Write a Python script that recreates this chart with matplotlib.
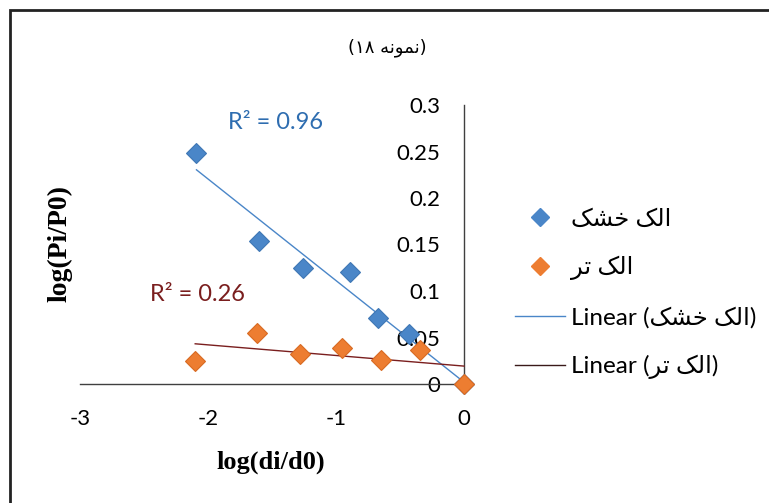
import numpy as np
import matplotlib
matplotlib.use("Agg")
import matplotlib.pyplot as plt
from matplotlib.lines import Line2D
from matplotlib.patches import Rectangle
from matplotlib.ticker import FormatStrFormatter

plt.rcParams['font.family'] = ['Lato', 'DejaVu Sans']
plt.rcParams['axes.unicode_minus'] = False

# Persian labels, pre-shaped (presentation forms, visual order) since matplotlib has no bidi
dry_name = '\uFB8F\uFEB8\uFEA7 \uFB8F\uFEDF\uFE8D'      # الک خشک
wet_name = '\uFEAE\uFE97 \uFB8F\uFEDF\uFE8D'            # الک تر
title_txt = '(\u06F1\u06F8 \uFEEA\uFEE7\uFEEE\uFEE4\uFEE7)'  # (نمونه ۱۸)

# data
x_dry = [-2.09, -1.60, -1.26, -0.89, -0.67, -0.43, 0.0]
y_dry = [0.248, 0.154, 0.125, 0.120, 0.071, 0.054, 0.0]
x_wet = [-2.10, -1.62, -1.28, -0.95, -0.65, -0.34, 0.0]
y_wet = [0.025, 0.055, 0.032, 0.039, 0.026, 0.037, 0.0]
r2_dry = 0.96
r2_wet = 0.26

blue = '#4A86C8'
orange = '#ED7D31'
dark_red = '#7A1E1E'

fig = plt.figure(figsize=(7.69, 5.03), dpi=100)
ax = fig.add_axes([80/769, 1-384/503, (464-80)/769, (384-105)/503])

# trendlines (least squares), drawn over the data range like Excel
for xs, ys, c in [(x_dry, y_dry, blue), (x_wet, y_wet, dark_red)]:
    k, b = np.polyfit(xs, ys, 1)
    xx = np.array([min(xs), max(xs)])
    ax.plot(xx, k*xx + b, color=c, lw=1, zorder=3, clip_on=False)

ax.plot(x_dry, y_dry, 'D', color=blue, ms=10, mec='#3F77B5', mew=0.8, zorder=4, clip_on=False)
ax.plot(x_wet, y_wet, 'D', color=orange, ms=10, mec='#D86A22', mew=0.8, zorder=5, clip_on=False)

ax.text(-1.84, 0.281, 'R\u00b2 = %.2f' % r2_dry, color='#2E6DB0', fontsize=17, va='center')
ax.text(-2.45, 0.096, 'R\u00b2 = %.2f' % r2_wet, color=dark_red, fontsize=17, va='center')

ax.set_xlim(-3, 0)
ax.set_ylim(0, 0.3)
ax.set_xticks([-3, -2, -1, 0])
ax.set_yticks([0, 0.05, 0.1, 0.15, 0.2, 0.25, 0.3])
ax.yaxis.set_major_formatter(FormatStrFormatter('%g'))
ax.spines['left'].set_position(('data', 0))
ax.spines['right'].set_visible(False)
ax.spines['top'].set_visible(False)
for s in ['left', 'bottom']:
    ax.spines[s].set_color('#404040')
    ax.spines[s].set_linewidth(1)
ax.tick_params(axis='both', length=0, labelsize=16, colors='black')
ax.tick_params(axis='y', pad=17)
ax.tick_params(axis='x', pad=18)
ax.patch.set_visible(False)

fig.text(271/769, 1-462/503, 'log(di/d0)', fontsize=19, fontweight='bold',
         family='Liberation Serif', ha='center', va='center')
fig.text(60/769, 1-243/503, 'log(Pi/P0)', fontsize=20, fontweight='bold',
         family='Liberation Serif', ha='center', va='center', rotation=90)
fig.text(387/769, 1-48/503, title_txt, fontsize=13, family='DejaVu Sans',
         ha='center', va='center')

handles = [
    Line2D([], [], ls='none', marker='D', color=blue, ms=9),
    Line2D([], [], ls='none', marker='D', color=orange, ms=9),
    Line2D([], [], color=blue, lw=1),
    Line2D([], [], color='#3a1a1a', lw=1),
]
labels = [dry_name, wet_name, 'Linear (' + dry_name + ')', 'Linear (' + wet_name + ')']
fig.legend(handles, labels, loc='center left', bbox_to_anchor=(505/769, 1-294/503),
           frameon=False, fontsize=17.5, labelspacing=1.08, handlelength=2.05,
           handletextpad=0.25, borderaxespad=0)

fig.patches.append(Rectangle((10/769, -0.1), 1.2, 1-10/503+0.1, transform=fig.transFigure,
                             fill=False, ec='#222222', lw=2))

fig.savefig('out.png', dpi=100)
